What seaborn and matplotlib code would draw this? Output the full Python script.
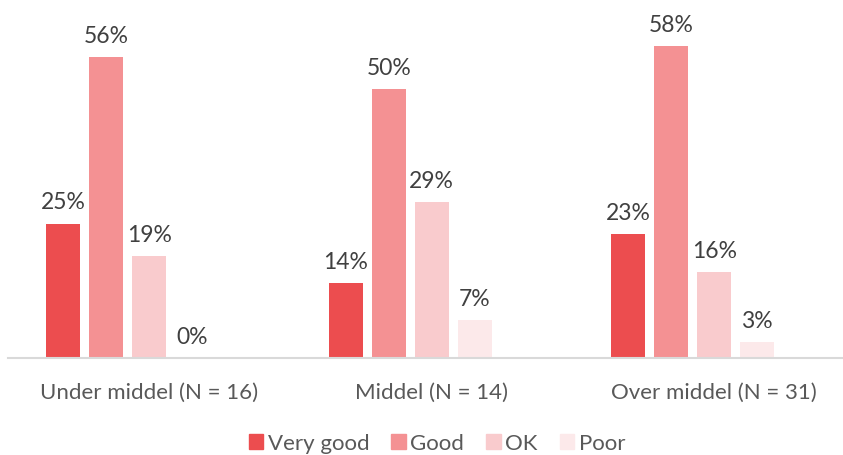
import matplotlib.pyplot as plt
import matplotlib.patches as mpatches
import pandas as pd
import seaborn as sns

GROUPS = ["Under middel (N = 16)", "Middel (N = 14)", "Over middel (N = 31)"]
RATINGS = ["Very good", "Good", "OK", "Poor"]
VERY_GOOD = [25, 14, 23]
GOOD = [56, 50, 58]
OK = [19, 29, 16]
POOR = [0, 7, 3]
COLORS = ["#EC4D4F", "#F49193", "#F9CBCD", "#FCE9EA"]

# Build long table; an empty fifth level keeps the bars left of centre like the source
rows = []
for rating, values in zip(RATINGS, [VERY_GOOD, GOOD, OK, POOR]):
    for group, v in zip(GROUPS, values):
        rows.append({"group": group, "rating": rating, "value": v})
for group in GROUPS:
    rows.append({"group": group, "rating": "_blank", "value": 0})
df = pd.DataFrame(rows)

hue_order = RATINGS + ["_blank"]
palette = dict(zip(RATINGS, COLORS))
palette["_blank"] = "white"

sns.set_style("white")
plt.rcParams["font.family"] = ["Lato", "DejaVu Sans"]

fig = plt.figure(figsize=(8.43, 4.56), dpi=100)
ax = fig.add_axes([8 / 843, 1 - 359 / 456, 835 / 843, 359 / 456])

sns.barplot(data=df, x="group", y="value", hue="rating", order=GROUPS,
            hue_order=hue_order, palette=palette, width=0.761, gap=0.21,
            saturation=1, linewidth=0, legend=False, ax=ax)

containers = ax.containers
for cont, values in zip(containers[:4], [VERY_GOOD, GOOD, OK, POOR]):
    ax.bar_label(cont, labels=[f"{v}%" for v in values], padding=8,
                 fontsize=16.5, color="#404040")
for bar in containers[4]:
    bar.set_visible(False)

ax.set_xlim(-0.5, 2.456)
ax.set_ylim(0, 359 / 5.38)
ax.set_xlabel("")
ax.set_ylabel("")
ax.set_yticks([])
ax.tick_params(axis="x", length=0, labelsize=16, labelcolor="#595959", pad=17)
for side in ["left", "right", "top"]:
    ax.spines[side].set_visible(False)
ax.spines["bottom"].set_color("#D9D9D9")
ax.spines["bottom"].set_linewidth(1.5)

handles = [mpatches.Patch(color=c, label=r) for r, c in zip(RATINGS, COLORS)]
fig.legend(handles=handles, loc="center", bbox_to_anchor=(437 / 843, 1 - 444 / 456),
           ncols=4, frameon=False, fontsize=16, labelcolor="#595959",
           handlelength=0.65, handleheight=0.65, handletextpad=0.2,
           columnspacing=1.0)

fig.savefig("out.png", dpi=100)
